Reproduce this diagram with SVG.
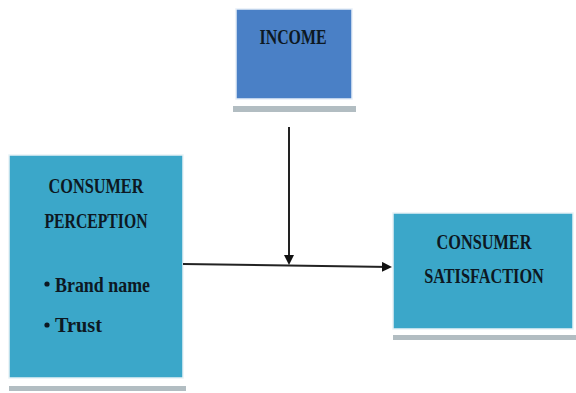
<svg xmlns="http://www.w3.org/2000/svg" width="576" height="393" viewBox="0 0 576 393">
<style>
.t{font-family:"Liberation Serif","Times New Roman",serif;font-weight:bold;fill:#0d1822;}
.shadow{fill:#b2bdc2;}
.box{fill:#3ba7c9;stroke:#e8f2f6;stroke-width:1.5;}
.conn{stroke:#222;stroke-width:2;fill:none;}
</style>
<defs>
<marker id="ah" markerWidth="10" markerHeight="10" refX="8" refY="5" orient="auto" markerUnits="userSpaceOnUse">
<path d="M0,0 L10,5 L0,10 Z" fill="#111"/>
</marker>
</defs>
<rect width="576" height="393" fill="#fff"/>
<g id="income">
<rect class="shadow" x="233" y="106" width="123" height="6"/>
<rect x="236" y="9" width="116" height="90" fill="#4a80c6" stroke="#e6eef8" stroke-width="1.5"/>
<text class="t" x="293" y="44" font-size="22" text-anchor="middle" textLength="67" lengthAdjust="spacingAndGlyphs">INCOME</text>
</g>
<g id="perception">
<rect class="shadow" x="9" y="386" width="177" height="5"/>
<rect class="box" x="9" y="155" width="174" height="223"/>
<text class="t" x="96" y="193" font-size="22" text-anchor="middle" textLength="95" lengthAdjust="spacingAndGlyphs">CONSUMER</text>
<text class="t" x="96" y="228" font-size="22" text-anchor="middle" textLength="103" lengthAdjust="spacingAndGlyphs">PERCEPTION</text>
<circle cx="47" cy="284" r="2.6" fill="#0d1822"/>
<text class="t" x="55" y="292" font-size="21" textLength="95" lengthAdjust="spacingAndGlyphs">Brand name</text>
<circle cx="47" cy="325" r="2.6" fill="#0d1822"/>
<text class="t" x="55" y="332" font-size="21" textLength="47" lengthAdjust="spacingAndGlyphs">Trust</text>
</g>
<g id="satisfaction">
<rect class="shadow" x="393" y="335" width="183" height="5"/>
<rect class="box" x="393" y="213" width="180" height="116"/>
<text class="t" x="484" y="249" font-size="22" text-anchor="middle" textLength="95" lengthAdjust="spacingAndGlyphs">CONSUMER</text>
<text class="t" font-size="22" text-anchor="middle" transform="translate(484,283) scale(0.74,1)">SATISFACTION</text>
</g>
<g id="connectors">
<line class="conn" x1="183" y1="264" x2="390" y2="267" marker-end="url(#ah)"/>
<line class="conn" x1="289" y1="127" x2="289" y2="263" stroke-width="1.5" marker-end="url(#ah)"/>
</g>
</svg>
